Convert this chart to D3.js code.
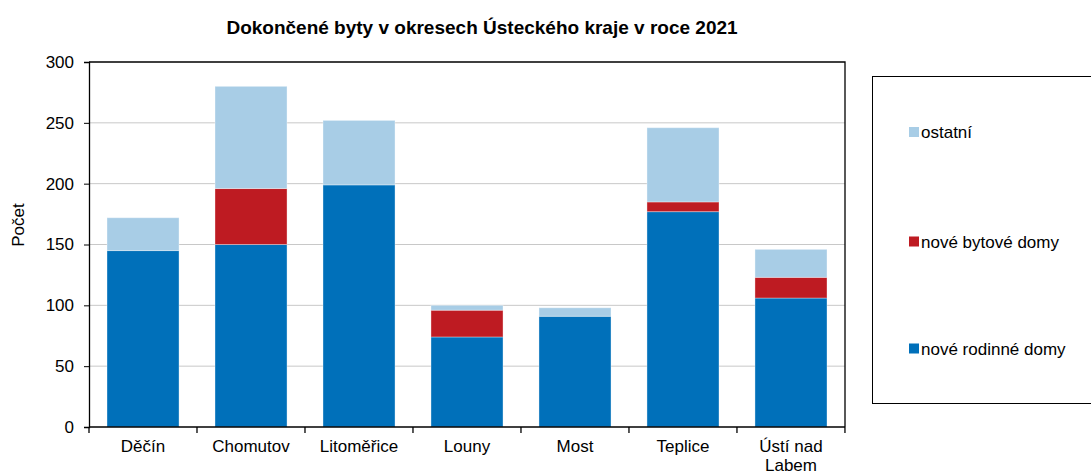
<!DOCTYPE html>
<html>
<head>
<meta charset="utf-8">
<script src="https://cdn.jsdelivr.net/npm/d3@7"></script>
<style>
  body { margin: 0; background: #fff; }
  svg { font-family: "Liberation Sans", Arial, sans-serif; }
</style>
</head>
<body>
<svg id="chart" width="1091" height="471"></svg>
<script>
const districts = ["Děčín", "Chomutov", "Litoměřice", "Louny", "Most", "Teplice", "Ústí nad Labem"];
const rodinne = [145, 150, 199, 74, 91, 177, 106];
const bytove = [0, 46, 0, 22, 0, 8, 17];
const ostatni = [27, 84, 53, 4, 7, 61, 23];
const yTicks = [0, 50, 100, 150, 200, 250, 300];

const seriesNames = ["nové rodinné domy", "nové bytové domy", "ostatní"];
const colors = ["#0070BA", "#BE1B22", "#A8CDE6"];

function drawChart() {
    const margin = {top: 62, left: 89};
    const width = 756, height = 365;

    const svg = d3.select("#chart");
    const g = svg.append("g").attr("transform", `translate(${margin.left},${margin.top})`);

    const rows = districts.map((d, i) => ({district: d, s0: rodinne[i], s1: bytove[i], s2: ostatni[i]}));
    const stacked = d3.stack().keys(["s0", "s1", "s2"])(rows);

    const x = d3.scaleBand().domain(districts).range([0, width]).paddingInner(0.333).paddingOuter(0.1667);
    const y = d3.scaleLinear().domain([0, 300]).range([height, 0]);

    // gridlines
    g.selectAll("line.grid")
        .data(yTicks.filter(t => t > 0 && t < 300))
        .join("line")
        .attr("class", "grid")
        .attr("x1", 0).attr("x2", width)
        .attr("y1", d => y(d)).attr("y2", d => y(d))
        .attr("stroke", "#c8c8c8").attr("stroke-width", 1);

    // bars
    g.selectAll("g.series")
        .data(stacked)
        .join("g")
        .attr("class", "series")
        .attr("fill", (d, i) => colors[i])
        .selectAll("rect")
        .data(d => d.filter(v => v[1] - v[0] > 0))
        .join("rect")
        .attr("x", d => x(d.data.district))
        .attr("width", x.bandwidth())
        .attr("y", d => y(d[1]))
        .attr("height", d => y(d[0]) - y(d[1]))
        .attr("stroke", "rgba(255,255,255,0.35)")
        .attr("stroke-width", 1);

    // frame top/right
    g.append("path")
        .attr("d", `M0,0H${width}V${height}`)
        .attr("fill", "none").attr("stroke", "#000").attr("stroke-width", 1.3);

    // y axis
    const yAxis = g.append("g")
        .call(d3.axisLeft(y).tickValues(yTicks).tickSize(5).tickPadding(10));
    yAxis.select(".domain").attr("stroke-width", 1.3);
    yAxis.selectAll("text").attr("font-size", 17).attr("fill", "#000")
        .attr("font-family", "Liberation Sans, Arial, sans-serif");

    // x axis with ticks between categories
    const xAxis = g.append("g").attr("transform", `translate(0,${height})`);
    xAxis.append("line").attr("x1", 0).attr("x2", width).attr("stroke", "#000").attr("stroke-width", 1.3);
    const step = x.step();
    xAxis.selectAll("line.tick")
        .data(d3.range(0, districts.length + 1))
        .join("line")
        .attr("class", "tick")
        .attr("x1", i => i * step).attr("x2", i => i * step)
        .attr("y1", 0).attr("y2", 6)
        .attr("stroke", "#000").attr("stroke-width", 1.3);

    districts.forEach(d => {
        const words = d === "Ústí nad Labem" ? ["Ústí nad", "Labem"] : [d];
        const t = xAxis.append("text")
            .attr("x", x(d) + x.bandwidth() / 2)
            .attr("y", 25)
            .attr("text-anchor", "middle")
            .attr("font-size", 17)
            .attr("fill", "#000");
        words.forEach((w, i) => t.append("tspan").attr("x", x(d) + x.bandwidth() / 2).attr("dy", i ? 19 : 0).text(w));
    });

    // y label
    svg.append("text")
        .attr("transform", "translate(24,225) rotate(-90)")
        .attr("text-anchor", "middle")
        .attr("font-size", 17)
        .text("Počet");

    // title
    svg.append("text")
        .attr("x", 482).attr("y", 34)
        .attr("text-anchor", "middle")
        .attr("font-size", 19)
        .attr("font-weight", "bold")
        .text("Dokončené byty v okresech Ústeckého kraje v roce 2021");

    // legend
    const legend = svg.append("g");
    legend.append("rect")
        .attr("x", 872.5).attr("y", 76.5).attr("width", 230).attr("height", 327)
        .attr("fill", "none").attr("stroke", "#000").attr("stroke-width", 1);
    const legendItems = [2, 1, 0];
    const legendY = [132, 241.5, 348.5];
    legendItems.forEach((s, i) => {
        legend.append("rect")
            .attr("x", 909).attr("y", legendY[i] - 5).attr("width", 10).attr("height", 10)
            .attr("fill", colors[s]);
        legend.append("text")
            .attr("x", 921).attr("y", legendY[i] + 6)
            .attr("font-size", 17)
            .text(seriesNames[s]);
    });
}

drawChart();
</script>
</body>
</html>
